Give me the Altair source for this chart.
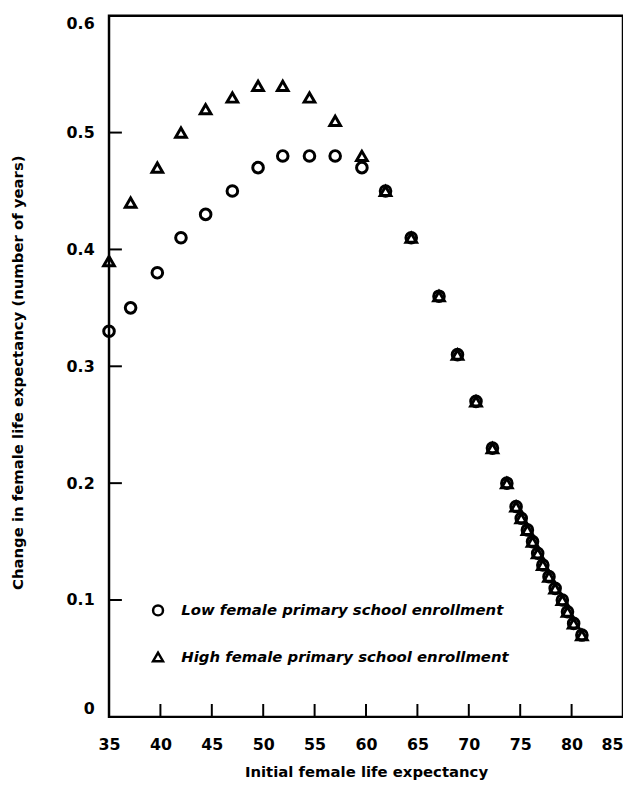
import altair as alt
import pandas as pd

LOW = "Low female primary school enrollment"
HIGH = "High female primary school enrollment"

x_head = [35, 37.1, 39.7, 42.0, 44.4, 47.0, 49.5, 51.9, 54.5, 57.0, 59.6]
y_low_head = [0.33, 0.35, 0.38, 0.41, 0.43, 0.45, 0.47, 0.48, 0.48, 0.48, 0.47]
y_high_head = [0.39, 0.44, 0.47, 0.50, 0.52, 0.53, 0.54, 0.54, 0.53, 0.51, 0.48]

x_tail = [61.9, 64.4, 67.1, 68.9, 70.7, 72.3, 73.7, 74.6, 75.1, 75.7, 76.2,
          76.7, 77.2, 77.8, 78.4, 79.1, 79.6, 80.2, 81.0]
y_tail = [0.45, 0.41, 0.36, 0.31, 0.27, 0.23, 0.20, 0.18, 0.17, 0.16, 0.15,
          0.14, 0.13, 0.12, 0.11, 0.10, 0.09, 0.08, 0.07]

x_ticks = [35, 40, 45, 50, 55, 60, 65, 70, 75, 80, 85]
y_ticks = [0, 0.1, 0.2, 0.3, 0.4, 0.5, 0.6]
x_inner = [40, 45, 50, 55, 60, 65, 70, 75, 80]
y_inner = [0.1, 0.2, 0.3, 0.4, 0.5]

rows = []
for xv, yv in zip(x_head + x_tail, y_low_head + y_tail):
    rows.append({"x": xv, "y": yv, "group": LOW})
for xv, yv in zip(x_head + x_tail, y_high_head + y_tail):
    rows.append({"x": xv, "y": yv, "group": HIGH})
df = pd.DataFrame(rows)

FONT = "DejaVu Sans"
W, H = 519, 708

xscale = alt.Scale(domain=[35, 85], nice=False, zero=False)
yscale = alt.Scale(domain=[0, 0.6], nice=False)

points = alt.Chart(df).mark_point(filled=False, color="black", strokeWidth=3, size=115, opacity=1).encode(
    x=alt.X("x:Q", scale=xscale,
            axis=alt.Axis(values=x_ticks, title="Initial female life expectancy",
                          ticks=False, tickSize=0, domain=False, grid=False,
                          labelFont=FONT, labelFontSize=16, labelFontWeight="bold", labelColor="black",
                          labelPadding=20, labelFlush=False, labelOverlap=False,
                          labelAlign={"condition": {"test": "datum.value == 85", "value": "right"}, "value": "center"},
                          titleFont=FONT, titleFontSize=15, titleFontWeight="bold", titleColor="black",
                          titleY=48)),
    y=alt.Y("y:Q", scale=yscale,
            axis=alt.Axis(values=y_ticks, title="Change in female life expectancy (number of years)",
                          labelExpr="datum.value == 0 ? '0' : format(datum.value, '.1f')",
                          ticks=False, tickSize=0, domain=False, grid=False,
                          labelFont=FONT, labelFontSize=16, labelFontWeight="bold", labelColor="black",
                          labelPadding=15, labelFlush=True, labelOverlap=False,
                          titleFont=FONT, titleFontSize=15, titleFontWeight="bold", titleColor="black",
                          titleX=-84, titleY=360)),
    shape=alt.Shape("group:N",
                    scale=alt.Scale(domain=[LOW, HIGH], range=["circle", "triangle-up"]),
                    legend=alt.Legend(title=None, orient="none", legendX=42, legendY=593,
                                      padding=0, symbolSize=100, symbolStrokeWidth=2.5,
                                      symbolStrokeColor="black", symbolFillColor="transparent",
                                      labelFont=FONT, labelFontSize=15, labelFontWeight="bold",
                                      labelFontStyle="italic", labelColor="black",
                                      labelOffset=16, rowPadding=27, labelLimit=500)),
)

yt = pd.DataFrame({"v": y_inner})
xt = pd.DataFrame({"v": x_inner})

ytick_rules = alt.Chart(yt).mark_rule(color="black", strokeWidth=2).encode(
    y=alt.Y("v:Q", scale=yscale), x=alt.value(0), x2=alt.value(13))
xtick_rules = alt.Chart(xt).mark_rule(color="black", strokeWidth=2).encode(
    x=alt.X("v:Q", scale=xscale), y=alt.value(H), y2=alt.value(H - 13))

chart = alt.layer(ytick_rules, xtick_rules, points).properties(
    width=W, height=H,
    padding={"left": 102, "top": 4, "right": 0, "bottom": 65},
    autosize=alt.AutoSizeParams(type="none"),
    background="white",
).configure_view(stroke="black", strokeWidth=2.5)

chart.save("out.html", embed_options={"renderer": "svg", "actions": False})
